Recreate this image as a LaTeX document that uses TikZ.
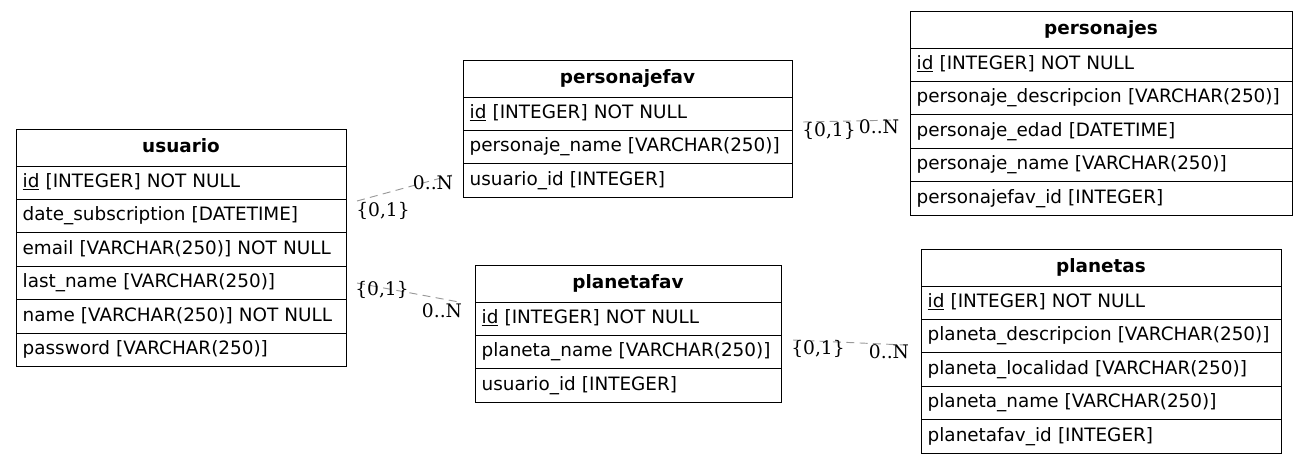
\documentclass[tikz,border=0pt]{standalone}
\usepackage{fontspec}
\usetikzlibrary{positioning}
\newfontfamily\dejavu{DejaVu Sans}
\newfontfamily\dejavuserif{DejaVu Serif}

\begin{document}
\begin{tikzpicture}[x=0.75pt, y=-0.75pt,
    row/.style={draw, line width=0.75pt, text width=#1, align=left, minimum height=25.1pt,
      text height=10.2pt, text depth=3.3pt, inner xsep=5pt, inner ysep=0pt, outer sep=0pt,
      execute at begin node={\hyphenpenalty=10000\relax},
      font=\dejavu\fontsize{13.8}{16}\selectfont},
    head/.style={row=#1, align=center, minimum height=27.75pt,
      font=\dejavu\bfseries\fontsize{13.8}{16}\selectfont},
    rel/.style={draw=gray!80, line width=0.7pt, dash pattern=on 6pt off 4pt},
    card/.style={inner sep=0pt, font=\dejavuserif\fontsize{14}{16}\selectfont}]
  \useasboundingbox (0,0) rectangle (1308,464);
  % usuario
  \node[head=237.5pt, anchor=north west] (usuario) at (16,129) {usuario};
  \node[row=237.5pt, below=0pt of usuario]           (usuario-id)    {\underline{id} [INTEGER] NOT NULL};
  \node[row=237.5pt, below=0pt of usuario-id]        (usuario-date)  {date\_subscription [DATETIME]};
  \node[row=237.5pt, below=0pt of usuario-date]      (usuario-email) {email [VARCHAR(250)] NOT NULL};
  \node[row=237.5pt, below=0pt of usuario-email]     (usuario-last)  {last\_name [VARCHAR(250)]};
  \node[row=237.5pt, below=0pt of usuario-last]      (usuario-name)  {name [VARCHAR(250)] NOT NULL};
  \node[row=237.5pt, below=0pt of usuario-name]      (usuario-pass)  {password [VARCHAR(250)]};
  % personajefav
  \node[head=236.75pt, anchor=north west] (personajefav) at (463,60) {personajefav};
  \node[row=236.75pt, below=0pt of personajefav]     (personajefav-id)   {\underline{id} [INTEGER] NOT NULL};
  \node[row=236.75pt, below=0pt of personajefav-id]  (personajefav-name) {personaje\_name [VARCHAR(250)]};
  \node[row=236.75pt, below=0pt of personajefav-name](personajefav-uid)  {usuario\_id [INTEGER]};
  % personajes
  \node[head=276.5pt, anchor=north west] (personajes) at (910,11) {personajes};
  \node[row=276.5pt, below=0pt of personajes]        (personajes-id)   {\underline{id} [INTEGER] NOT NULL};
  \node[row=276.5pt, below=0pt of personajes-id]     (personajes-desc) {personaje\_descripcion [VARCHAR(250)]};
  \node[row=276.5pt, below=0pt of personajes-desc]   (personajes-edad) {personaje\_edad [DATETIME]};
  \node[row=276.5pt, below=0pt of personajes-edad]   (personajes-name) {personaje\_name [VARCHAR(250)]};
  \node[row=276.5pt, below=0pt of personajes-name]   (personajes-fav)  {personajefav\_id [INTEGER]};
  % planetafav
  \node[head=219.5pt, anchor=north west] (planetafav) at (475,265) {planetafav};
  \node[row=219.5pt, below=0pt of planetafav]        (planetafav-id)   {\underline{id} [INTEGER] NOT NULL};
  \node[row=219.5pt, below=0pt of planetafav-id]     (planetafav-name) {planeta\_name [VARCHAR(250)]};
  \node[row=219.5pt, below=0pt of planetafav-name]   (planetafav-uid)  {usuario\_id [INTEGER]};
  % planetas
  \node[head=260pt, anchor=north west] (planetas) at (921,249) {planetas};
  \node[row=260pt, below=0pt of planetas]            (planetas-id)   {\underline{id} [INTEGER] NOT NULL};
  \node[row=260pt, below=0pt of planetas-id]         (planetas-desc) {planeta\_descripcion [VARCHAR(250)]};
  \node[row=260pt, below=0pt of planetas-desc]       (planetas-loc)  {planeta\_localidad [VARCHAR(250)]};
  \node[row=260pt, below=0pt of planetas-loc]        (planetas-name) {planeta\_name [VARCHAR(250)]};
  \node[row=260pt, below=0pt of planetas-name]       (planetas-fav)  {planetafav\_id [INTEGER]};
  % edge ends
  \coordinate (u-p1) at (357,201);
  \coordinate (pf-u) at (452,175);
  \coordinate (u-p2) at (357,283);
  \coordinate (plf-u) at (459,302);
  \coordinate (pf-p) at (803,122);
  \coordinate (p-pf) at (899,120);
  \coordinate (plf-p) at (793,340);
  \coordinate (p-plf) at (905,345);
  \path[rel]
    (u-p1) edge (pf-u)
    (u-p2) edge (plf-u)
    (pf-p) edge (p-pf)
    (plf-p) edge (p-plf);
  % cardinalities
  \node[card] (c1a) at (383,211) {\{0,1\}};
  \node[card] (c1b) at (433,183) {0..N};
  \node[card] (c2a) at (382,290) {\{0,1\}};
  \node[card] (c2b) at (442,311) {0..N};
  \node[card] (c3a) at (829,131) {\{0,1\}};
  \node[card] (c3b) at (879,127) {0..N};
  \node[card] (c4a) at (818,349) {\{0,1\}};
  \node[card] (c4b) at (889,352) {0..N};
\end{tikzpicture}
\end{document}
